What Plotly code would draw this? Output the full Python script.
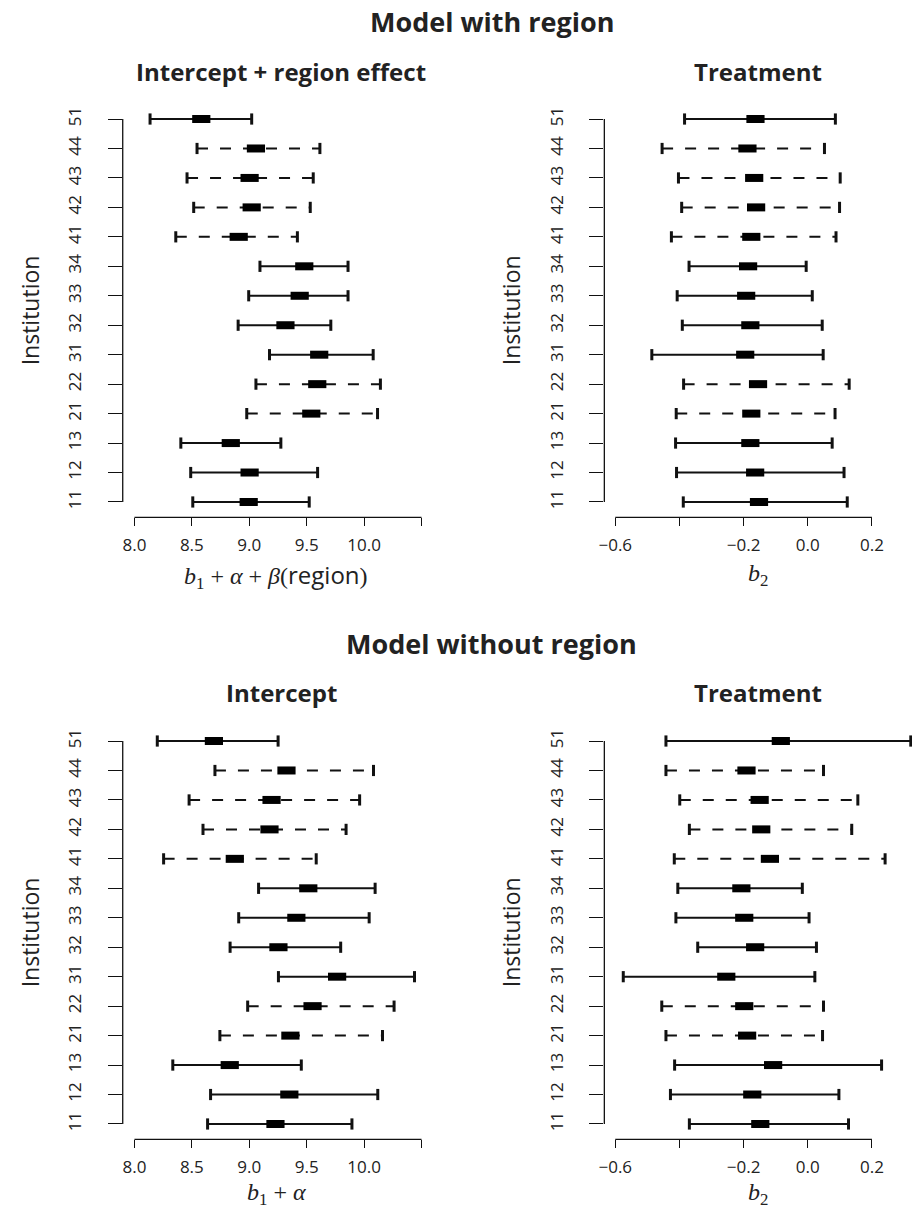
import plotly.graph_objects as go

# Institutions, listed from the bottom row to the top row
institutions = ["11", "12", "13", "21", "22", "31", "32", "33", "34", "41", "42", "43", "44", "51"]
dashed_inst = ["21", "22", "41", "42", "43", "44"]

# Model with region: intercept + region effect (lower, estimate, upper)
m1_int_lo = [8.508, 8.490, 8.404, 8.978, 9.058, 9.176, 8.903, 8.995, 9.093, 8.360, 8.516, 8.458, 8.545, 8.136]
m1_int_est = [8.995, 9.003, 8.839, 9.540, 9.592, 9.609, 9.315, 9.439, 9.479, 8.908, 9.021, 9.003, 9.058, 8.582]
m1_int_hi = [9.522, 9.595, 9.275, 10.117, 10.142, 10.079, 9.710, 9.860, 9.860, 9.419, 9.531, 9.557, 9.615, 9.021]

# Model with region: treatment
m1_trt_lo = [-0.388, -0.409, -0.412, -0.410, -0.387, -0.486, -0.391, -0.407, -0.370, -0.425, -0.393, -0.403, -0.454, -0.384]
m1_trt_est = [-0.152, -0.164, -0.179, -0.176, -0.155, -0.195, -0.179, -0.192, -0.186, -0.176, -0.161, -0.167, -0.188, -0.163]
m1_trt_hi = [0.123, 0.113, 0.076, 0.085, 0.129, 0.048, 0.045, 0.014, -0.005, 0.088, 0.099, 0.101, 0.052, 0.086]

# Model without region: intercept
m2_int_lo = [8.637, 8.663, 8.334, 8.744, 8.986, 9.254, 8.833, 8.908, 9.081, 8.254, 8.597, 8.476, 8.701, 8.199]
m2_int_est = [9.228, 9.349, 8.830, 9.358, 9.551, 9.765, 9.254, 9.410, 9.514, 8.874, 9.176, 9.194, 9.324, 8.692]
m2_int_hi = [9.894, 10.119, 9.453, 10.160, 10.261, 10.439, 9.796, 10.044, 10.096, 9.583, 9.843, 9.961, 10.082, 9.251]

# Model without region: treatment
m2_trt_lo = [-0.369, -0.428, -0.415, -0.442, -0.455, -0.575, -0.343, -0.411, -0.405, -0.416, -0.369, -0.399, -0.442, -0.442]
m2_trt_est = [-0.148, -0.173, -0.108, -0.189, -0.198, -0.254, -0.164, -0.198, -0.207, -0.118, -0.145, -0.150, -0.191, -0.084]
m2_trt_hi = [0.127, 0.097, 0.230, 0.046, 0.049, 0.022, 0.027, 0.004, -0.017, 0.241, 0.137, 0.156, 0.049, 0.321]

# labelled ticks, plus unlabelled ticks
int_ticks = [8.0, 8.5, 9.0, 9.5, 10.0]
int_ticktext = ["8.0", "8.5", "9.0", "9.5", "10.0"]
int_extra_ticks = [10.5]
trt_ticks = [-0.6, -0.2, 0.0, 0.2]
trt_ticktext = ["\u22120.6", "\u22120.2", "0.0", "0.2"]
trt_extra_ticks = [-0.4]

W, H = 912, 1212
SANS = "Open Sans"
SERIF = "Liberation Serif"
INK = "#111111"
TXT = "#222222"

positions = list(range(1, len(institutions) + 1))


def fx(px):
    return px / W


def fy(py):
    return 1 - py / H


fig = go.Figure()


def add_intervals(lo, est, hi, xa, ya):
    for is_dashed in (False, True):
        xs, ys = [], []
        for inst, p, a, b in zip(institutions, positions, lo, hi):
            if (inst in dashed_inst) == is_dashed:
                xs += [a, b, None]
                ys += [p, p, None]
        fig.add_trace(go.Scatter(
            x=xs, y=ys, mode="lines", xaxis=xa, yaxis=ya,
            line=dict(color=INK, width=2, dash="11px,12px" if is_dashed else "solid"),
            hoverinfo="skip", showlegend=False))
    # end caps
    fig.add_trace(go.Scatter(
        x=lo + hi, y=positions + positions, mode="markers", xaxis=xa, yaxis=ya,
        marker=dict(symbol="line-ns", size=8, line=dict(color=INK, width=3)),
        cliponaxis=False, hoverinfo="skip", showlegend=False))
    # point estimates
    fig.add_trace(go.Scatter(
        x=est, y=positions, mode="markers", xaxis=xa, yaxis=ya,
        marker=dict(symbol="line-ew", size=13, line=dict(color="black", width=8)),
        cliponaxis=False, showlegend=False))


add_intervals(m1_int_lo, m1_int_est, m1_int_hi, "x", "y")
add_intervals(m1_trt_lo, m1_trt_est, m1_trt_hi, "x2", "y2")
add_intervals(m2_int_lo, m2_int_est, m2_int_hi, "x3", "y3")
add_intervals(m2_trt_lo, m2_trt_est, m2_trt_hi, "x4", "y4")

# panel geometry (pixels)
left_x = (117.5, 437.0)
right_x = (602.3, 912.0)
top_y = (103.7, 517.3)
bot_y = (725.7, 1139.3)
int_range = [7.898, 10.662]
trt_range = [-0.634, 0.3248]
row_range = [0.48, 14.52]

xcommon = dict(ticks="outside", ticklen=8, tickwidth=1.3, tickcolor=INK,
               showline=False, showgrid=False, zeroline=False,
               tickfont=dict(family=SANS, size=17, color=TXT),
               ticklabelstandoff=4, fixedrange=True)
ycommon = dict(ticks="outside", ticklen=14, tickwidth=1.3, tickcolor=INK,
               showline=False, showgrid=False, zeroline=False,
               tickvals=positions, ticktext=institutions, tickangle=-90,
               range=row_range, tickfont=dict(family=SANS, size=17, color=TXT),
               ticklabelstandoff=20, fixedrange=True)

panels = [
    ("xaxis", "yaxis", "y", left_x, top_y, int_range, int_ticks, int_ticktext, int_extra_ticks),
    ("xaxis2", "yaxis2", "y2", right_x, top_y, trt_range, trt_ticks, trt_ticktext, trt_extra_ticks),
    ("xaxis3", "yaxis3", "y3", left_x, bot_y, int_range, int_ticks, int_ticktext, int_extra_ticks),
    ("xaxis4", "yaxis4", "y4", right_x, bot_y, trt_range, trt_ticks, trt_ticktext, trt_extra_ticks),
]

layout_axes = {}
shapes = []
for i, (xk, yk, yref, xd, yd, xr, tv, tt, extra) in enumerate(panels, start=1):
    xref = "x" if i == 1 else f"x{i}"
    layout_axes[xk] = dict(xcommon, domain=[fx(xd[0]), fx(xd[1])], range=xr,
                           tickmode="array", tickvals=tv, ticktext=tt, anchor=yref,
                           minor=dict(tickmode="array", tickvals=extra, ticks="outside",
                                      ticklen=8, tickwidth=1.3, tickcolor=INK,
                                      showgrid=False))
    layout_axes[yk] = dict(ycommon, domain=[fy(yd[1]), fy(yd[0])], anchor=xref)
    # axis lines spanning first to last tick
    all_ticks = sorted(tv + extra)
    shapes.append(dict(type="line", xref=xref, yref=f"{yref} domain",
                       x0=all_ticks[0], x1=all_ticks[-1], y0=0, y1=0,
                       line=dict(color=INK, width=1.3)))
    shapes.append(dict(type="line", xref=f"{xref} domain", yref=yref,
                       x0=0, x1=0, y0=positions[0], y1=positions[-1],
                       line=dict(color=INK, width=1.3)))

annotations = []


def text_at(px, py, txt, size, family=SANS, angle=0):
    annotations.append(dict(x=fx(px), y=fy(py), xref="paper", yref="paper",
                            text=txt, showarrow=False, textangle=angle,
                            xanchor="center", yanchor="middle",
                            font=dict(family=family, size=size, color=TXT)))


for dy, main, sub_left in ((0, "Model with region", "Intercept + region effect"),
                           (622, "Model without region", "Intercept")):
    text_at(489, 21 + dy, f"<b>{main}</b>", 27)
    text_at(277, 71 + dy, f"<b>{sub_left}</b>", 24)
    text_at(757, 71 + dy, "<b>Treatment</b>", 24)
    text_at(24, 310.5 + dy, "Institution", 23, angle=-90)
    text_at(508, 310.5 + dy, "Institution", 23, angle=-90)

region_word = f"<span style='font-family:{SANS}'>region</span>"
text_at(272, 575, f"<i>b</i><sub>1</sub> + <i>α</i> + <i>β</i>({region_word})", 24, family=SERIF)
text_at(757, 575, "<i>b</i><sub>2</sub>", 24, family=SERIF)
text_at(272, 1194, "<i>b</i><sub>1</sub> + <i>α</i>", 24, family=SERIF)
text_at(757, 1194, "<i>b</i><sub>2</sub>", 24, family=SERIF)

fig.update_layout(
    width=W, height=H, autosize=False,
    margin=dict(l=0, r=0, t=0, b=0),
    paper_bgcolor="white", plot_bgcolor="white",
    shapes=shapes, annotations=annotations,
    **layout_axes,
)

fig.write_html("out.html")
